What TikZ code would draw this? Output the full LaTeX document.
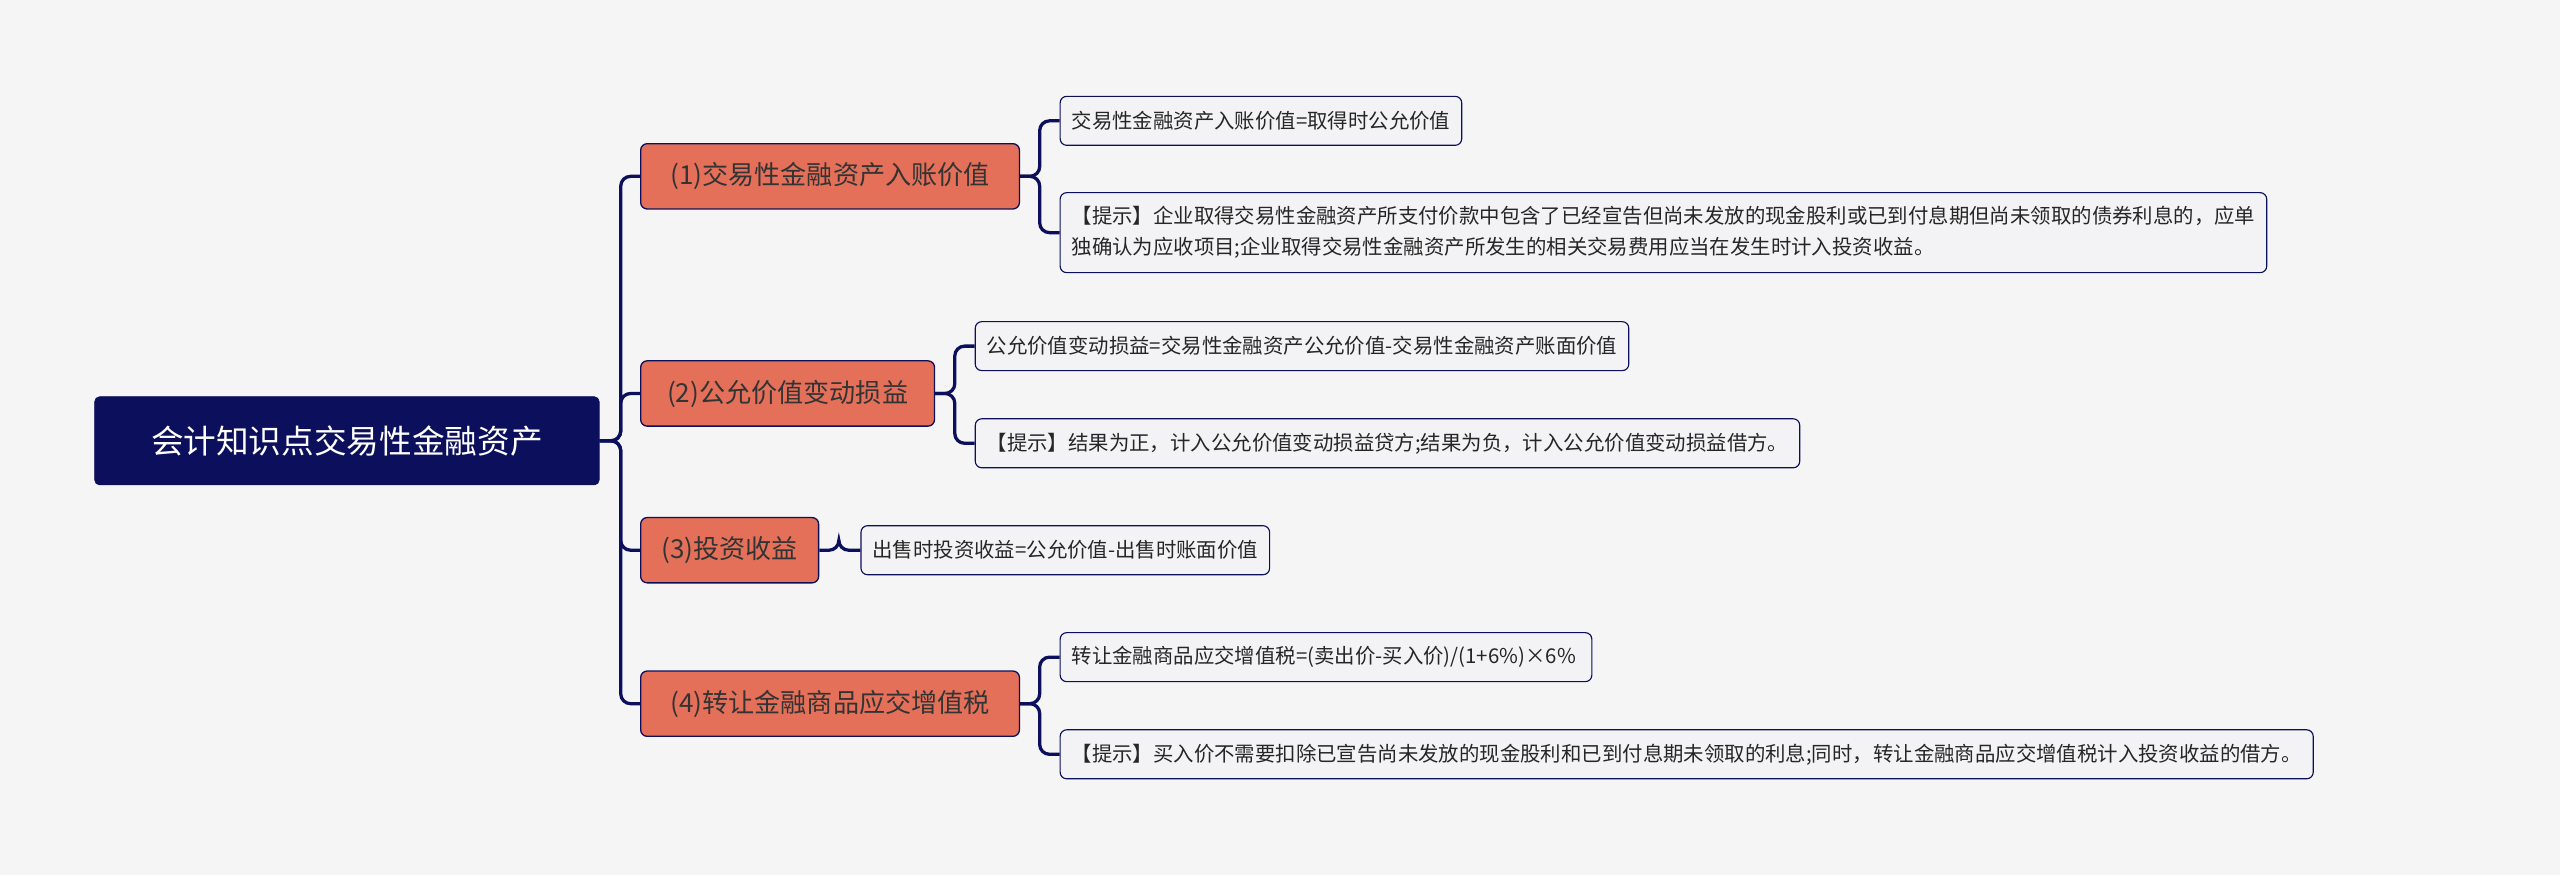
\documentclass[tikz,border=0pt]{standalone}
\usepackage{fontspec}
\setmainfont{Noto Sans CJK SC}
\usetikzlibrary{positioning}
\definecolor{navy}{HTML}{0B0F5C}
\definecolor{salmon}{HTML}{E5705A}
\definecolor{leafbg}{HTML}{F3F3F5}
\definecolor{pagebg}{HTML}{F5F5F5}

\begin{document}
\begin{tikzpicture}[
  x=1pt, y=-1pt,
  every node/.style={inner sep=0pt},
  rootbox/.style={draw=navy, fill=navy, rounded corners=3pt, text=white, font=\fontsize{20}{24}\selectfont, minimum width=309pt, minimum height=54pt},
  branch/.style={draw=navy, fill=salmon, rounded corners=4pt, line width=0.8pt, text=black!80, font=\fontsize{16}{19}\selectfont, minimum height=40pt, inner xsep=8pt, anchor=west},
  leaf/.style={draw=navy, fill=leafbg, rounded corners=4pt, line width=0.7pt, text=black!85, font=\fontsize{12.5}{19}\selectfont, minimum height=30pt, inner xsep=7pt, anchor=west, align=left},
  link/.style={draw=navy, line width=2pt, rounded corners=6pt}
]
\fill[pagebg] (0,0) rectangle (1568,536);

% root and branches
\node[rootbox] (root) at (212.5,270) {会计知识点交易性金融资产};
\node[branch, minimum width=232pt] (acq) at (392,108) {(1)交易性金融资产入账价值};
\node[branch, minimum width=180pt] (fair) at (392,241) {(2)公允价值变动损益};
\node[branch, minimum width=109pt] (inv) at (392,337) {(3)投资收益};
\node[branch, minimum width=232pt] (vat) at (392,431) {(4)转让金融商品应交增值税};

% leaves
\node[leaf] (acqA) at (649,74) {交易性金融资产入账价值=取得时公允价值};
\node[leaf, minimum height=49pt] (acqB) at (649,142.5) {【提示】企业取得交易性金融资产所支付价款中包含了已经宣告但尚未发放的现金股利或已到付息期但尚未领取的债券利息的，应单\\独确认为应收项目;企业取得交易性金融资产所发生的相关交易费用应当在发生时计入投资收益。};
\node[leaf] (fairA) at (597,212) {公允价值变动损益=交易性金融资产公允价值-交易性金融资产账面价值};
\node[leaf] (fairB) at (597,271.5) {【提示】结果为正，计入公允价值变动损益贷方;结果为负，计入公允价值变动损益借方。};
\node[leaf] (invA) at (527,337) {出售时投资收益=公允价值-出售时账面价值};
\node[leaf] (vatA) at (649,402.5) {转让金融商品应交增值税=(卖出价-买入价)/(1+6\%)×6\% };
\node[leaf] (vatB) at (649,462) {【提示】买入价不需要扣除已宣告尚未发放的现金股利和已到付息期未领取的利息;同时，转让金融商品应交增值税计入投资收益的借方。};

% connectors
\foreach \b in {acq,fair,inv,vat}
  \draw[link] (root.east) -- ++(13,0) |- (\b.west);
\foreach \b/\l in {acq/acqA,acq/acqB,fair/fairA,fair/fairB,vat/vatA,vat/vatB,inv/invA}
  \draw[link] (\b.east) -- ++(12,0) |- (\l.west);
\end{tikzpicture}
\end{document}
